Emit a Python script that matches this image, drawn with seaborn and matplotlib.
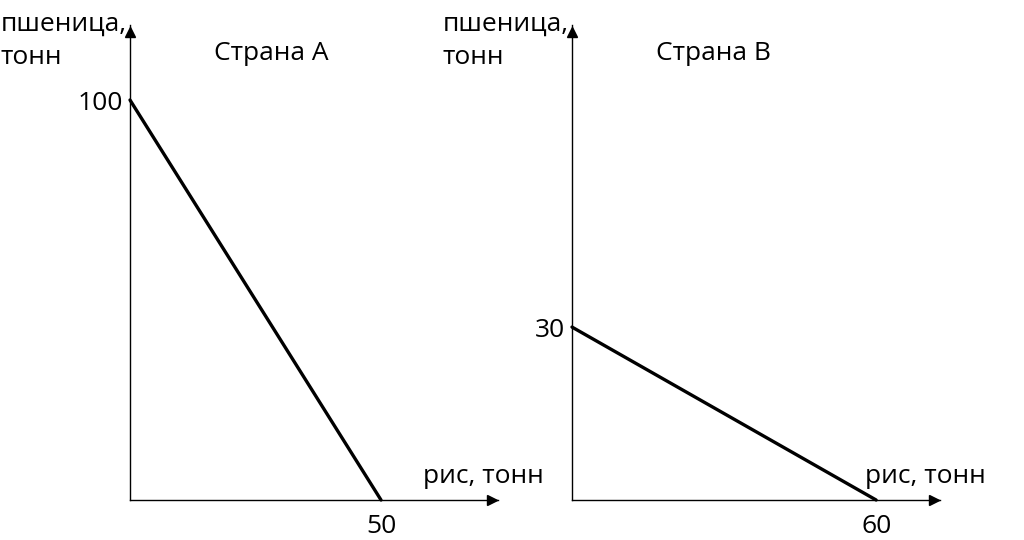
import matplotlib
matplotlib.use("Agg")
import matplotlib.pyplot as plt
import seaborn as sns
import pandas as pd

# production possibility frontiers
rice_a = [0, 50]
wheat_a = [100, 0]
rice_b = [0, 60]
wheat_b = [30, 0]

titles = ["Страна А", "Страна В"]
y_label = "пшеница,\nтонн"
x_label = "рис, тонн"

sns.set_theme(style="white")
plt.rcParams["font.family"] = ["Open Sans", "DejaVu Sans"]
plt.rcParams["text.color"] = "black"

fig = plt.figure(figsize=(10.24, 5.4), dpi=100)

W, H = 1024, 540
fs = 19
panels = [
    dict(left=130, xmax=73.3, ymax=118.75, rice=rice_a, wheat=wheat_a, title=titles[0]),
    dict(left=572, xmax=72.6, ymax=82.4, rice=rice_b, wheat=wheat_b, title=titles[1]),
]

for p in panels:
    ax = fig.add_axes([p["left"] / W, 40 / H, 368 / W, 475 / H])
    data = pd.DataFrame({"rice": p["rice"], "wheat": p["wheat"]})
    sns.lineplot(data=data, x="rice", y="wheat", color="black", linewidth=2.4, ax=ax, clip_on=False)
    ax.set_xlim(0, p["xmax"])
    ax.set_ylim(0, p["ymax"])
    for s in ["top", "right"]:
        ax.spines[s].set_visible(False)
    for s in ["left", "bottom"]:
        ax.spines[s].set_color("black")
        ax.spines[s].set_linewidth(1.0)
    ax.plot(0.985, 0, ">", color="black", markersize=7, transform=ax.transAxes, clip_on=False)
    ax.plot(0, 0.985, "^", color="black", markersize=7, transform=ax.transAxes, clip_on=False)
    ax.set_xticks([p["rice"][1]])
    ax.set_yticks([p["wheat"][0]])
    ax.set_xticklabels([str(p["rice"][1])])
    ax.set_yticklabels([str(p["wheat"][0])])
    ax.tick_params(axis="y", length=0, pad=5, labelsize=fs, colors="black")
    ax.tick_params(axis="x", length=0, pad=10, labelsize=fs, colors="black")
    ax.set_xlabel("")
    ax.set_ylabel("")
    ax.text(-0.008, 0.966, y_label, transform=ax.transAxes, ha="right", va="center",
            multialignment="left", fontsize=fs, linespacing=1.45, color="black")
    ax.text(0.385, 0.94, p["title"], transform=ax.transAxes, ha="center", va="center",
            fontsize=fs, color="black")
    ax.text(1.125, 0.05, x_label, transform=ax.transAxes, ha="right", va="center",
            fontsize=fs, color="black")

fig.savefig("out.png", dpi=100)
